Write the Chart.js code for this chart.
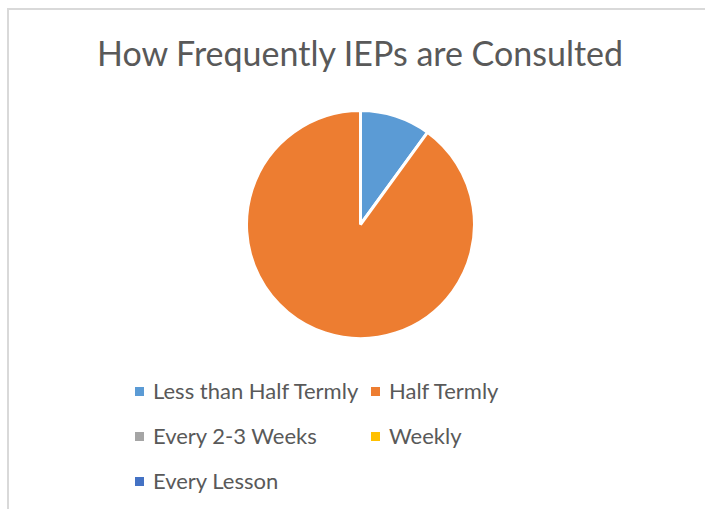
<!DOCTYPE html>
<html>
<head>
<meta charset="utf-8">
<script src="https://cdn.jsdelivr.net/npm/chart.js@4.4.1/dist/chart.umd.min.js"></script>
<style>
    html, body { margin: 0; padding: 0; background: #fff; }
    #wrap { position: relative; width: 705px; height: 509px; overflow: hidden; font-family: Lato, "Open Sans", sans-serif; color: #595959; }
    #frame { position: absolute; left: 7px; top: 8px; width: 720px; height: 520px; border-top: 2px solid #d9d9d9; border-left: 2px solid #d9d9d9; }
    #title { position: absolute; left: 0; top: 31px; width: 720px; text-align: center; font-size: 34px; line-height: 44px; white-space: nowrap; }
    #pie { position: absolute; left: 245px; top: 109px; width: 231px; height: 231px; }
    .leg { position: absolute; font-size: 22px; line-height: 26px; white-space: nowrap; }
    .leg i { position: absolute; left: 0; top: 9px; width: 9px; height: 9px; }
    .leg span { position: absolute; left: 18px; top: 0; }
</style>
</head>
<body>
<div id="wrap">
    <div id="frame"></div>
    <div id="title">How Frequently IEPs are Consulted</div>
    <div id="pie"><canvas id="pieChart"></canvas></div>
    <div id="legend"></div>
</div>
<script>
    // data (percent of responses)
    const labels = ['Less than Half Termly', 'Half Termly', 'Every 2-3 Weeks', 'Weekly', 'Every Lesson'];
    const values = [10, 90, 0, 0, 0];
    const colors = ['#5B9BD5', '#ED7D31', '#A5A5A5', '#FFC000', '#4472C4'];

    const chart = new Chart(document.getElementById('pieChart'), {
        type: 'pie',
        data: {
            labels: labels,
            datasets: [{
                data: values,
                backgroundColor: colors,
                borderColor: '#ffffff',
                borderWidth: 3
            }]
        },
        options: {
            responsive: true,
            maintainAspectRatio: false,
            animation: false,
            layout: { padding: 0 },
            plugins: {
                legend: { display: false },
                tooltip: { enabled: false }
            }
        }
    });

    // legend in two columns, like the original
    const legend = document.getElementById('legend');
    const colX = [135, 371];
    const rowY = [378, 423, 468];
    chart.data.labels.forEach(function (label, i) {
        const el = document.createElement('div');
        el.className = 'leg';
        el.style.left = colX[i % 2] + 'px';
        el.style.top = rowY[Math.floor(i / 2)] + 'px';
        el.innerHTML = '<i style="background:' + colors[i] + '"></i><span>' + label + '</span>';
        legend.appendChild(el);
    });
</script>
</body>
</html>
